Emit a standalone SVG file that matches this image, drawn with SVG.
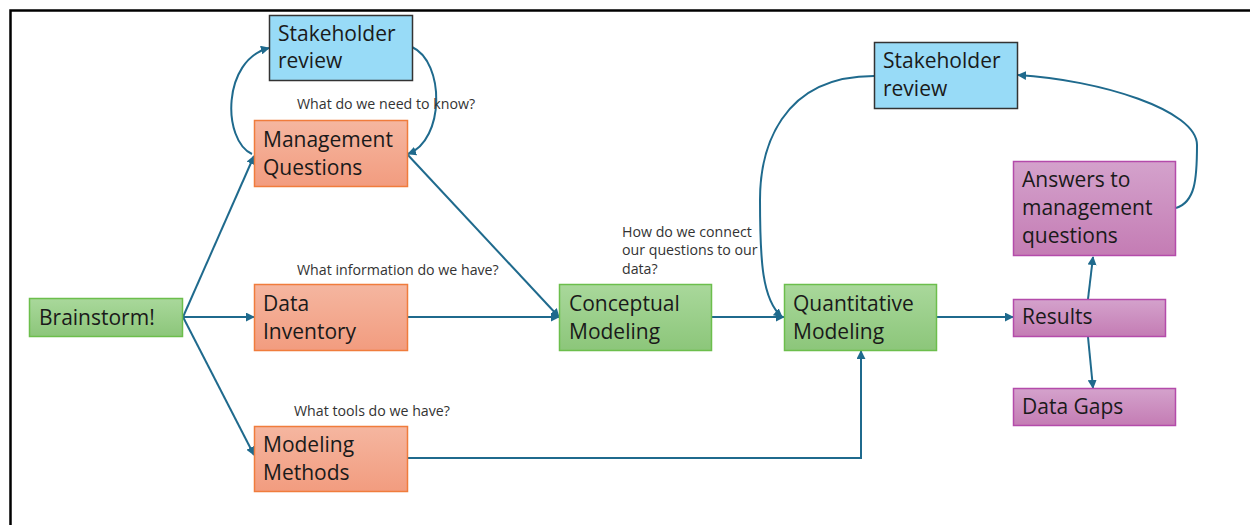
<svg xmlns="http://www.w3.org/2000/svg" width="1250" height="525" viewBox="0 0 1250 525">
  <defs>
    <linearGradient id="gOrange" x1="0" y1="0" x2="0" y2="1">
      <stop offset="0" stop-color="#F5B6A0"/>
      <stop offset="1" stop-color="#F29C7F"/>
    </linearGradient>
    <linearGradient id="gGreen" x1="0" y1="0" x2="0" y2="1">
      <stop offset="0" stop-color="#A9D89B"/>
      <stop offset="1" stop-color="#8CC67A"/>
    </linearGradient>
    <linearGradient id="gPurple" x1="0" y1="0" x2="0" y2="1">
      <stop offset="0" stop-color="#D4A2CC"/>
      <stop offset="1" stop-color="#C47CB4"/>
    </linearGradient>
    <marker id="arrow" viewBox="0 0 10 10" refX="9" refY="5" markerWidth="4.5" markerHeight="4.5" orient="auto" markerUnits="strokeWidth">
      <path d="M0,0 L10,5 L0,10 z" fill="#1F6A8D"/>
    </marker>
  </defs>
  <style>
    .frame { fill: none; stroke: #000; stroke-width: 2.5; }
    .orange { fill: url(#gOrange); stroke: #F07C3C; stroke-width: 1.5; }
    .green { fill: url(#gGreen); stroke: #6CBE4C; stroke-width: 1.5; }
    .purple { fill: url(#gPurple); stroke: #B44BAA; stroke-width: 1.5; }
    .blue { fill: #98DBF7; stroke: #333; stroke-width: 1.5; }
    .label { font-family: "Open Sans", "Liberation Sans", sans-serif; font-size: 21px; fill: #1a1a1a; }
    .note { font-family: "Open Sans", "Liberation Sans", sans-serif; font-size: 14.2px; fill: #333; }
    .conn { fill: none; stroke: #1F6A8D; stroke-width: 2; marker-end: url(#arrow); }
  </style>

  <rect width="1250" height="525" fill="#fff"/>
  <!-- outer frame (top and left edges) -->
  <path class="frame" d="M1250,10.5 H10.5 V525"/>

  <!-- connectors -->
  <g id="connectors">
    <path class="conn" d="M183,317 L254,156"/>
    <path class="conn" d="M183,317 L254,317"/>
    <path class="conn" d="M183,317 L254,455"/>
    <path class="conn" d="M252,154 C222,140 222,60 269,48"/>
    <path class="conn" d="M412,47 C445,62 445,140 408,154"/>
    <path class="conn" d="M407,154 L559,317"/>
    <path class="conn" d="M407,317 L559,317"/>
    <path class="conn" d="M712,317 L784,317"/>
    <path class="conn" d="M874,76 C780,76 760,150 760,200 C760,260 762,300 782,317"/>
    <path class="conn" d="M407,458 H861 V351"/>
    <path class="conn" d="M937,317 L1013,317"/>
    <path class="conn" d="M1088,299 L1093,257"/>
    <path class="conn" d="M1088,337 L1093,388"/>
    <path class="conn" d="M1176,208 C1195,202 1197,180 1197,145 C1197,110 1100,80 1018,75"/>
  </g>

  <!-- notes -->
  <g id="notes">
    <text class="note" x="297" y="109">What do we need to know?</text>
    <text class="note" x="297" y="275">What information do we have?</text>
    <text class="note" x="294" y="416">What tools do we have?</text>
    <text class="note" x="622" y="237">How do we connect</text>
    <text class="note" x="622" y="255">our questions to our</text>
    <text class="note" x="622" y="274">data?</text>
  </g>

  <g id="stakeholder-review-1">
    <rect class="blue" x="269.5" y="15.5" width="143" height="65"/>
    <text class="label" x="278" y="41">Stakeholder</text>
    <text class="label" x="278" y="68">review</text>
  </g>
  <g id="management-questions">
    <rect class="orange" x="254.5" y="120.5" width="153" height="66"/>
    <text class="label" x="263" y="147">Management</text>
    <text class="label" x="263" y="175">Questions</text>
  </g>
  <g id="brainstorm">
    <rect class="green" x="29.5" y="298.5" width="153" height="38"/>
    <text class="label" x="39" y="325">Brainstorm!</text>
  </g>
  <g id="data-inventory">
    <rect class="orange" x="254.5" y="284.5" width="153" height="66"/>
    <text class="label" x="263" y="311">Data</text>
    <text class="label" x="263" y="339">Inventory</text>
  </g>
  <g id="modeling-methods">
    <rect class="orange" x="254.5" y="426.5" width="153" height="65"/>
    <text class="label" x="263" y="452">Modeling</text>
    <text class="label" x="263" y="480">Methods</text>
  </g>
  <g id="conceptual-modeling">
    <rect class="green" x="559.5" y="284.5" width="152" height="66"/>
    <text class="label" x="569" y="311">Conceptual</text>
    <text class="label" x="569" y="339">Modeling</text>
  </g>
  <g id="quantitative-modeling">
    <rect class="green" x="784.5" y="284.5" width="152" height="66"/>
    <text class="label" x="793" y="311">Quantitative</text>
    <text class="label" x="793" y="339">Modeling</text>
  </g>
  <g id="stakeholder-review-2">
    <rect class="blue" x="874.5" y="42.5" width="143" height="66"/>
    <text class="label" x="883" y="68">Stakeholder</text>
    <text class="label" x="883" y="96">review</text>
  </g>
  <g id="answers">
    <rect class="purple" x="1013.5" y="161.5" width="162" height="94"/>
    <text class="label" x="1022" y="187">Answers to</text>
    <text class="label" x="1022" y="215">management</text>
    <text class="label" x="1022" y="243">questions</text>
  </g>
  <g id="results">
    <rect class="purple" x="1013.5" y="299.5" width="152" height="37"/>
    <text class="label" x="1022" y="324">Results</text>
  </g>
  <g id="data-gaps">
    <rect class="purple" x="1013.5" y="388.5" width="162" height="37"/>
    <text class="label" x="1022" y="414">Data Gaps</text>
  </g>
</svg>
